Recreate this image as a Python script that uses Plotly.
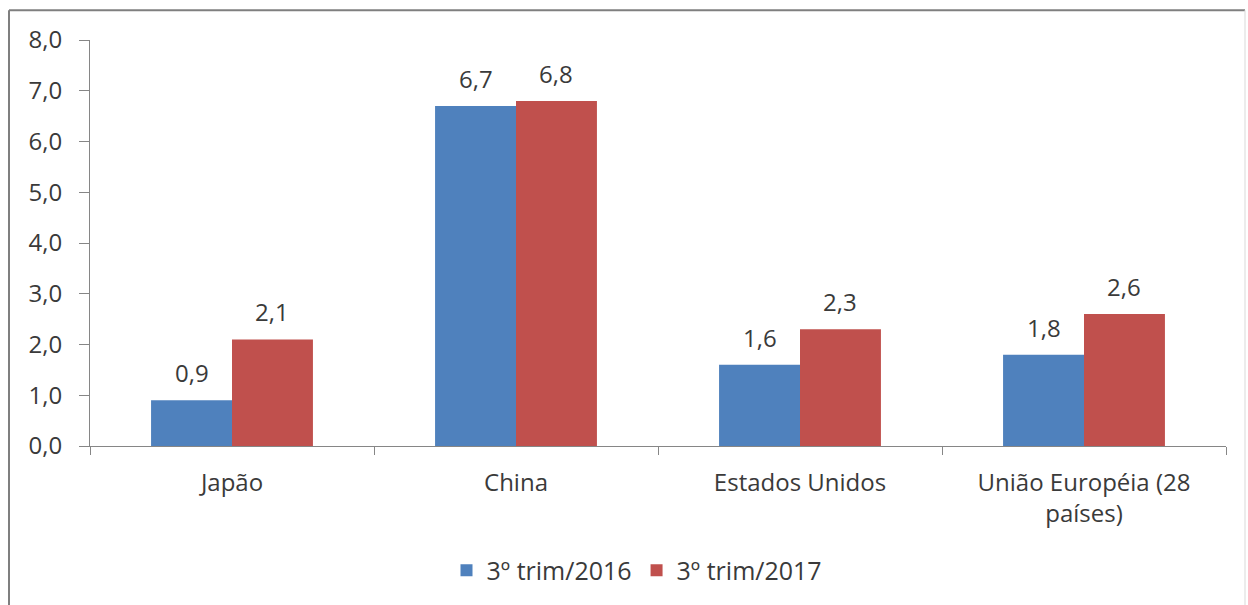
import plotly.graph_objects as go

categories = ["Japão", "China", "Estados Unidos", "União Européia (28<br>países)"]
series_names = ["3º trim/2016", "3º trim/2017"]
values_2016 = [0.9, 6.7, 1.6, 1.8]
values_2017 = [2.1, 6.8, 2.3, 2.6]
y_tick_values = [0, 1, 2, 3, 4, 5, 6, 7, 8]
y_tick_labels = ["0,0", "1,0", "2,0", "3,0", "4,0", "5,0", "6,0", "7,0", "8,0"]

colors = ["#4F81BD", "#C0504D"]
font_family = "Open Sans"
text_color = "#3a3a3a"
FS = 24

W, H = 1248, 605
L, R, T, B = 90, 22, 40, 157
plot_w = W - L - R
plot_h = H - T - B
BARGAP = 0.43

fig = go.Figure()
for name, vals, col in zip(series_names, [values_2016, values_2017], colors):
    fig.add_trace(go.Bar(
        x=categories, y=vals, name=name,
        marker=dict(color=col, line=dict(width=0)),
    ))

# data labels above bars
cat_px = plot_w / len(categories)
bar_px = cat_px * (1 - BARGAP) / 2
annotations = []
for si, vals in enumerate([values_2016, values_2017]):
    shift = (si - 0.5) * bar_px
    for c, v in zip(categories, vals):
        annotations.append(dict(
            x=c, y=v, xref="x", yref="y", text=f"{v:.1f}".replace(".", ","),
            showarrow=False, xshift=shift, yshift=9, yanchor="bottom",
            font=dict(family=font_family, size=FS, color=text_color),
        ))

def px_x(px):
    return (px - L) / plot_w

def px_y(py):
    return (H - B - py) / plot_h

shapes = [
    dict(type="line", xref="paper", yref="paper", x0=px_x(9), x1=px_x(1245), y0=px_y(10), y1=px_y(10),
         line=dict(color="#7f7f7f", width=2)),
    dict(type="line", xref="paper", yref="paper", x0=px_x(9), x1=px_x(9), y0=px_y(10), y1=px_y(610),
         line=dict(color="#7f7f7f", width=2)),
    dict(type="line", xref="paper", yref="paper", x0=px_x(1245), x1=px_x(1245), y0=px_y(10), y1=px_y(610),
         line=dict(color="#d9d9d9", width=1)),
]

fig.update_layout(
    width=W, height=H,
    margin=dict(l=L, r=R, t=T, b=B),
    paper_bgcolor="white", plot_bgcolor="white",
    barmode="group", bargap=BARGAP, bargroupgap=0,
    font=dict(family=font_family, size=FS, color=text_color),
    showlegend=True,
    legend=dict(orientation="h", x=px_x(637), xanchor="center", y=px_y(573), yanchor="middle",
                font=dict(family=font_family, size=25, color=text_color),
                itemwidth=30, tracegroupgap=0, bgcolor="rgba(0,0,0,0)"),
    annotations=annotations,
    shapes=shapes,
)
fig.update_xaxes(
    showgrid=False, showline=True, linecolor="#868686", linewidth=1,
    ticks="outside", tickson="boundaries", ticklen=8, tickcolor="#868686",
    tickfont=dict(family=font_family, size=FS, color=text_color),
    ticklabelstandoff=15, zeroline=False,
)
fig.update_yaxes(
    range=[0, 8], tickvals=y_tick_values, ticktext=y_tick_labels,
    showgrid=False, showline=True, linecolor="#868686", linewidth=1,
    ticks="outside", ticklen=10, tickcolor="#868686",
    tickfont=dict(family=font_family, size=FS, color=text_color),
    ticklabelstandoff=12, zeroline=False,
)

fig.write_html("out.html")
